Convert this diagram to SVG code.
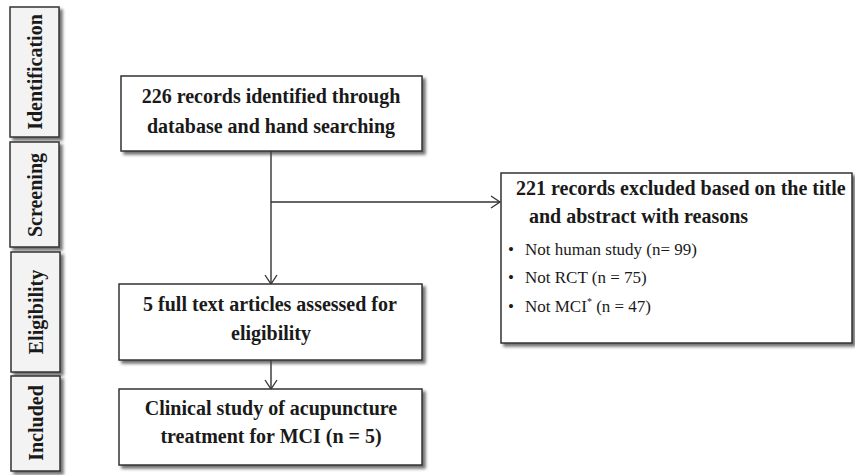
<svg xmlns="http://www.w3.org/2000/svg" width="855" height="475" viewBox="0 0 855 475">
<defs>
<filter id="sh" x="-10%" y="-10%" width="130%" height="130%">
<feDropShadow dx="3" dy="3" stdDeviation="1.8" flood-color="#444" flood-opacity="0.75"/>
</filter>
<marker id="arr" markerUnits="userSpaceOnUse" markerWidth="14" markerHeight="14" refX="11" refY="7" orient="auto">
<path d="M2,1 L11,7 L2,13" fill="none" stroke="#333" stroke-width="1.3"/>
</marker>
<style>
.box{fill:#fff;stroke:#333;stroke-width:1.5;filter:url(#sh)}
.side{fill:#f3f3f3;stroke:#333;stroke-width:1.5;filter:url(#sh)}
.b{font-family:"Liberation Serif","Times New Roman",serif;font-weight:bold;font-size:20px;fill:#1a1a1a}
.r{font-family:"Liberation Serif","Times New Roman",serif;font-size:17px;fill:#1a1a1a}
.c{text-anchor:middle}
.ln{fill:none;stroke:#333;stroke-width:1.4}
</style>
</defs>
<rect width="855" height="475" fill="#fff"/>

<g id="side-identification">
<rect class="side" x="10" y="7" width="49" height="130"/>
<text class="b c" transform="translate(42,72) rotate(-90)">Identification</text>
</g>
<g id="side-screening">
<rect class="side" x="10" y="142" width="49" height="105"/>
<text class="b c" transform="translate(42,195) rotate(-90)">Screening</text>
</g>
<g id="side-eligibility">
<rect class="side" x="11" y="252" width="49" height="120"/>
<text class="b c" transform="translate(43,312) rotate(-90)">Eligibility</text>
</g>
<g id="side-included">
<rect class="side" x="11" y="376" width="49" height="95"/>
<text class="b c" transform="translate(43,423) rotate(-90)">Included</text>
</g>

<g id="connectors">
<line class="ln" x1="271" y1="151" x2="271" y2="284" marker-end="url(#arr)"/>
<line class="ln" x1="271" y1="202" x2="500" y2="202" marker-end="url(#arr)"/>
<line class="ln" x1="271" y1="360" x2="271" y2="389" marker-end="url(#arr)"/>
</g>

<g id="node-identified">
<rect class="box" x="121" y="76" width="301" height="75"/>
<text class="b c" x="271" y="103">226 records identified through</text>
<text class="b c" x="271" y="133">database and hand searching</text>
</g>

<g id="node-excluded">
<rect class="box" x="501" y="173" width="351" height="170"/>
<text class="b" x="516" y="195">221 records excluded based on the title</text>
<text class="b" x="529" y="223">and abstract with reasons</text>
<text class="r" x="508" y="255">•</text>
<text class="r" x="525" y="255">Not human study (n= 99)</text>
<text class="r" x="508" y="283">•</text>
<text class="r" x="525" y="283">Not RCT (n = 75)</text>
<text class="r" x="508" y="312">•</text>
<text class="r" x="525" y="312">Not MCI<tspan font-size="10" dy="-7">*</tspan><tspan dy="7"> (n = 47)</tspan></text>
</g>

<g id="node-fulltext">
<rect class="box" x="119" y="284" width="303" height="76"/>
<text class="b c" x="270" y="311">5 full text articles assessed  for</text>
<text class="b c" x="271" y="340">eligibility</text>
</g>

<g id="node-included">
<rect class="box" x="119" y="389" width="303" height="76"/>
<text class="b c" x="271" y="415">Clinical study of acupuncture</text>
<text class="b c" x="271" y="443">treatment for MCI (n = 5)</text>
</g>
</svg>
